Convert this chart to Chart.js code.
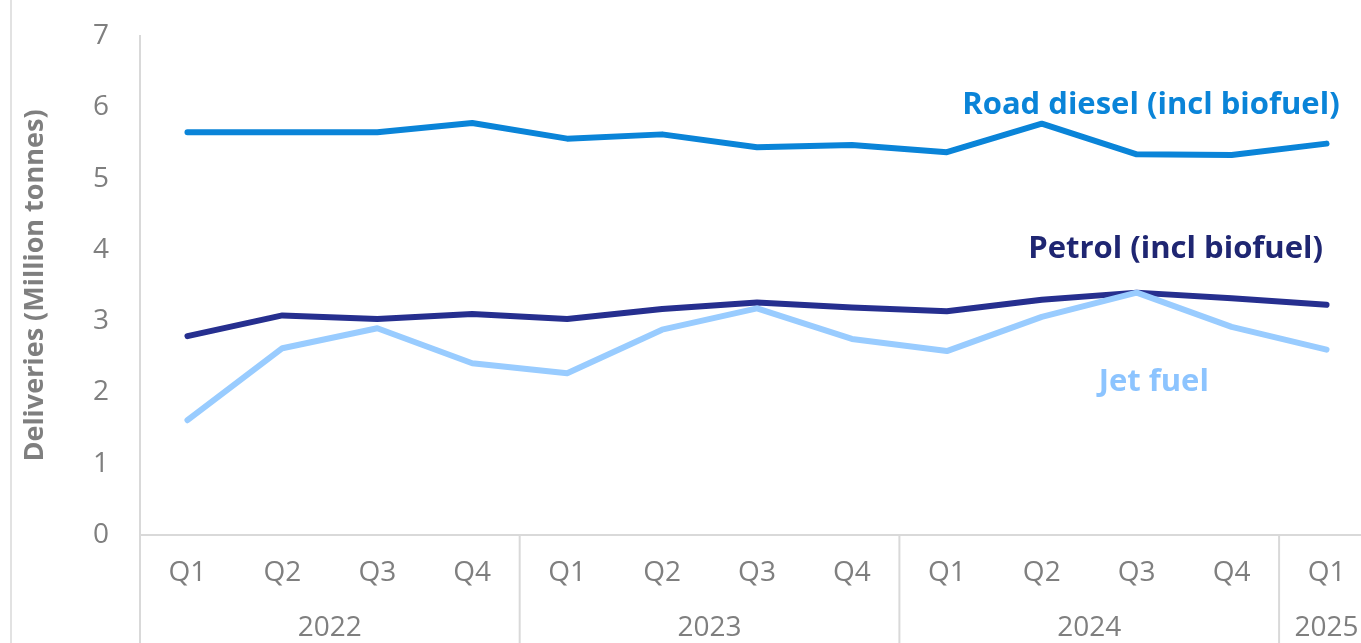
<!DOCTYPE html>
<html>
<head>
<meta charset="utf-8">
<script src="https://cdn.jsdelivr.net/npm/chart.js@4"></script>
<style>
  html, body { margin: 0; padding: 0; background: #fff; overflow: hidden; }
  #wrap { position: absolute; left: 0; top: 0; width: 1374px; height: 660px; }
</style>
</head>
<body>
<div id="wrap"><canvas id="chart"></canvas></div>
<script>
// quarters and the year each one belongs to
var quarters = ["Q1", "Q2", "Q3", "Q4", "Q1", "Q2", "Q3", "Q4", "Q1", "Q2", "Q3", "Q4", "Q1"];
var years = ["2022", "2023", "2024", "2025"];
var yearStart = [0, 4, 8, 12];
var yearEnd = [3, 7, 11, 12];

// deliveries, million tonnes
var roadDiesel = [5.65, 5.65, 5.65, 5.78, 5.56, 5.62, 5.44, 5.47, 5.37, 5.77, 5.34, 5.33, 5.49];
var petrol = [2.79, 3.08, 3.03, 3.10, 3.03, 3.17, 3.26, 3.19, 3.14, 3.30, 3.40, 3.32, 3.23];
var jetFuel = [1.61, 2.62, 2.90, 2.41, 2.27, 2.88, 3.18, 2.75, 2.58, 3.06, 3.40, 2.92, 2.60];

var yTicks = [0, 1, 2, 3, 4, 5, 6, 7];

var GREY = "#7f7f7f";
var LINE = "#d9d9d9";
var FONT = "'Open Sans', sans-serif";

// series labels, placed in data units
var seriesLabels = [
    { text: "Road diesel (incl biofuel)", color: "#0a84d8", at: 10.15, value: 6.03 },
    { text: "Petrol (incl biofuel)", color: "#1f2672", at: 10.41, value: 4.01 },
    { text: "Jet fuel", color: "#8cc4ff", at: 10.18, value: 2.15 }
];

var extras = {
    id: "extras",
    afterDraw: function (chart) {
        var ctx = chart.ctx;
        var x = chart.scales.x, y = chart.scales.y;
        var area = chart.chartArea;
        var half = (x.getPixelForValue(1) - x.getPixelForValue(0)) / 2;
        ctx.save();

        // faint frame line at the far left
        ctx.strokeStyle = LINE;
        ctx.lineWidth = 1.5;
        ctx.beginPath();
        ctx.moveTo(11, 0);
        ctx.lineTo(11, chart.height);
        ctx.stroke();

        // year group separators and labels
        ctx.lineWidth = 2;
        ctx.fillStyle = GREY;
        ctx.font = "28px " + FONT;
        ctx.textAlign = "center";
        ctx.textBaseline = "middle";
        years.forEach(function (yr, i) {
            var left = x.getPixelForValue(yearStart[i]) - half;
            ctx.beginPath();
            ctx.moveTo(left, area.bottom);
            ctx.lineTo(left, chart.height);
            ctx.stroke();
            var mid = (x.getPixelForValue(yearStart[i]) + x.getPixelForValue(yearEnd[i])) / 2;
            ctx.fillText(yr, mid, area.bottom + 93);
        });

        // series labels
        ctx.font = "bold 31px " + FONT;
        seriesLabels.forEach(function (l) {
            ctx.fillStyle = l.color;
            ctx.fillText(l.text, x.getPixelForValue(l.at), y.getPixelForValue(l.value));
        });
        ctx.restore();
    }
};

new Chart(document.getElementById("chart"), {
    type: "line",
    data: {
        labels: quarters,
        datasets: [{
            label: "Road diesel (incl biofuel)",
            data: roadDiesel,
            borderColor: "#0a84d8",
            order: 2
        }, {
            label: "Petrol (incl biofuel)",
            data: petrol,
            borderColor: "#262f8f",
            order: 1
        }, {
            label: "Jet fuel",
            data: jetFuel,
            borderColor: "#99ccff",
            order: 0
        }]
    },
    options: {
        responsive: true,
        maintainAspectRatio: false,
        animation: false,
        devicePixelRatio: 1,
        layout: { padding: { top: 36, left: 0, right: 0, bottom: 0 } },
        elements: {
            line: { borderWidth: 6, tension: 0, borderCapStyle: "round", borderJoinStyle: "round" },
            point: { radius: 0, hoverRadius: 0 }
        },
        plugins: {
            legend: { display: false },
            tooltip: { enabled: false }
        },
        scales: {
            x: {
                offset: true,
                grid: { display: false, drawTicks: false },
                border: { color: LINE, width: 2 },
                ticks: { color: GREY, font: { family: FONT, size: 28 }, padding: 21, maxRotation: 0, autoSkip: false },
                afterFit: function (scale) { scale.height = 125; }
            },
            y: {
                min: 0,
                max: 7,
                afterBuildTicks: function (scale) {
                    scale.ticks = yTicks.map(function (v) { return { value: v }; });
                },
                grid: { display: false, drawTicks: false },
                border: { color: LINE, width: 2 },
                ticks: { color: GREY, font: { family: FONT, size: 28 }, padding: 31 },
                title: {
                    display: true,
                    text: "Deliveries (Million tonnes)",
                    color: GREY,
                    font: { family: FONT, size: 27, weight: "bold" },
                    padding: { top: 19, bottom: 0 }
                },
                afterFit: function (scale) {
                    scale.width = 140;
                    // keep the tick padding from pushing the plot top down
                    scale.paddingTop = 0;
                    scale.paddingBottom = 0;
                }
            }
        }
    },
    plugins: [extras]
});
</script>
</body>
</html>
